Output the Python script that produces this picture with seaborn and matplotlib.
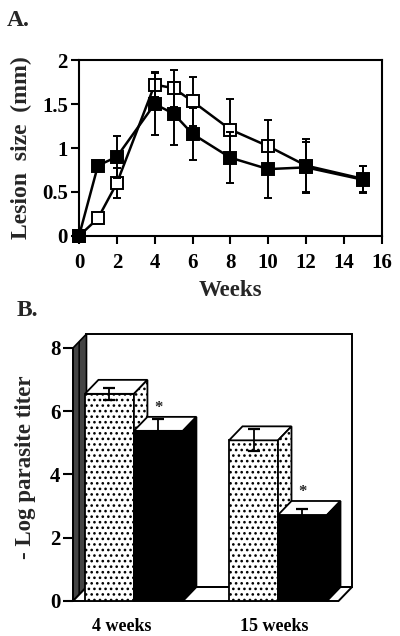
import numpy as np
import pandas as pd
import matplotlib
matplotlib.use("Agg")
import matplotlib.pyplot as plt
import matplotlib.transforms as mtransforms
from matplotlib.patches import Polygon
import seaborn as sns

# ---------------- data ----------------
weeks = [0, 1, 2, 4, 5, 6, 8, 10, 12, 15]
open_mean = [0.0, 0.2, 0.6, 1.72, 1.68, 1.53, 1.21, 1.02, 0.80, 0.65]
open_err = [0.0, 0.0, 0.17, 0.14, 0.21, 0.28, 0.35, 0.30, 0.30, 0.15]
filled_mean = [0.0, 0.8, 0.9, 1.50, 1.39, 1.16, 0.89, 0.76, 0.78, 0.64]
filled_err = [0.0, 0.0, 0.24, 0.35, 0.36, 0.30, 0.29, 0.33, 0.29, 0.15]

times = ["4 weeks", "15 weeks"]
groups = ["dotted", "black"]
titer_dotted = [6.55, 5.08]
titer_black = [5.38, 2.72]
titer_err_dotted = [0.18, 0.35]
titer_err_black = [0.37, 0.18]

# ---------------- style ----------------
sns.set_theme(style="ticks")
plt.rcParams["font.family"] = ["Liberation Serif", "DejaVu Serif"]
plt.rcParams["font.weight"] = "bold"
plt.rcParams["axes.labelweight"] = "bold"
plt.rcParams["hatch.linewidth"] = 1.1
plt.rcParams["hatch.color"] = "black"

W, H = 400, 636
fig = plt.figure(figsize=(W / 100, H / 100), dpi=100)
fig.patch.set_facecolor("white")


def px_axes(left, top, right, bottom):
    return fig.add_axes([left / W, 1 - bottom / H, (right - left) / W, (bottom - top) / H])


# ---------------- panel A ----------------
axA = px_axes(79, 60, 381.7, 236)
dfA = pd.DataFrame({
    "week": weeks * 2,
    "size": open_mean + filled_mean,
    "group": ["open"] * len(weeks) + ["filled"] * len(weeks),
})

axA.errorbar(weeks, open_mean, yerr=open_err, fmt="none", ecolor="black",
             elinewidth=1.4, capsize=3, capthick=1.4, zorder=2, clip_on=False)
sns.lineplot(data=dfA[dfA.group == "open"], x="week", y="size", ax=axA,
             color="black", lw=1.8, marker="s", markersize=8.5,
             markerfacecolor="white", markeredgecolor="black", markeredgewidth=1.4,
             zorder=3, clip_on=False, legend=False)
axA.errorbar(weeks, filled_mean, yerr=filled_err, fmt="none", ecolor="black",
             elinewidth=1.4, capsize=3, capthick=1.4, zorder=4, clip_on=False)
sns.lineplot(data=dfA[dfA.group == "filled"], x="week", y="size", ax=axA,
             color="black", lw=1.8, marker="s", markersize=8.5,
             markerfacecolor="black", markeredgecolor="black", markeredgewidth=1.4,
             zorder=5, clip_on=False, legend=False)

axA.set_xlim(0, 16)
axA.set_ylim(0, 2)
axA.set_xticks(range(0, 17, 2))
axA.set_yticks([0, 0.5, 1, 1.5, 2])
axA.set_yticklabels(["0", "0.5", "1", "1.5", "2"])
axA.set_xlabel("Weeks", fontsize=16.5, labelpad=5)
axA.set_ylabel("Lesion  size  (mm)", fontsize=17, labelpad=7)
for s in axA.spines.values():
    s.set_linewidth(1.5)
    s.set_color("black")
axA.tick_params(direction="out", length=6, width=1.5, labelsize=15, colors="black")
axA.tick_params(axis="x", pad=6)
axA.tick_params(axis="y", pad=2)
for lab in axA.get_xticklabels() + axA.get_yticklabels():
    lab.set_fontweight("bold")
fig.text(7 / W, 1 - 20 / H, "A.", fontsize=17, fontweight="bold", va="center", ha="left")

# ---------------- panel B ----------------
xl, xr = -0.423, 1.42
ddx, ddy = 0.0936, 0.442
axB = px_axes(73, 334, 352, 601)

dfB = pd.DataFrame({
    "time": times * 2,
    "titer": titer_dotted + titer_black,
    "group": ["dotted"] * 2 + ["black"] * 2,
})
sns.barplot(data=dfB, x="time", y="titer", hue="group", hue_order=groups,
            order=times, palette=["white", "black"], width=0.68, ax=axB,
            legend=False, errorbar=None, saturation=1)
axB.set_xlim(xl, xr + ddx)
axB.set_ylim(0, 8 + ddy)

# back wall, left wall, floor
axB.add_patch(Polygon([(xl + ddx, ddy), (xr + ddx, ddy), (xr + ddx, 8 + ddy), (xl + ddx, 8 + ddy)],
                      closed=True, facecolor="white", edgecolor="black", lw=1.4, zorder=0.5,
                      clip_on=False))
axB.add_patch(Polygon([(xl, 0), (xl + ddx, ddy), (xl + ddx, 8 + ddy), (xl, 8)],
                      closed=True, facecolor="#444444", edgecolor="black", hatch="||",
                      lw=1.2, zorder=0.6, clip_on=False))
axB.add_patch(Polygon([(xl, 0), (xr, 0), (xr + ddx, ddy), (xl + ddx, ddy)],
                      closed=True, facecolor="white", edgecolor="black", lw=1.4, zorder=0.7,
                      clip_on=False))

errs = {"dotted": titer_err_dotted, "black": titer_err_black}
for gi, (g, cont) in enumerate(zip(groups, axB.containers)):
    z = 3 + gi
    for bi, rect in enumerate(cont.patches):
        x0, w, h = rect.get_x(), rect.get_width(), rect.get_height()
        if g == "dotted":
            fc, hatch = "white", "..."
        else:
            fc, hatch = "black", None
        rect.set_facecolor(fc)
        rect.set_edgecolor("black")
        rect.set_linewidth(1.3)
        rect.set_hatch(hatch)
        rect.set_zorder(z)
        axB.add_patch(Polygon([(x0, h), (x0 + w, h), (x0 + w + ddx, h + ddy), (x0 + ddx, h + ddy)],
                              closed=True, facecolor="white", edgecolor="black", lw=1.3, zorder=z,
                              clip_on=False))
        axB.add_patch(Polygon([(x0 + w, 0), (x0 + w + ddx, ddy), (x0 + w + ddx, h + ddy), (x0 + w, h)],
                              closed=True, facecolor=fc, edgecolor="black", hatch=hatch,
                              lw=1.3, zorder=z, clip_on=False))
        xc = x0 + w / 2
        axB.errorbar([xc], [h], yerr=[errs[g][bi]], fmt="none", ecolor="black",
                     elinewidth=1.3, capsize=4, capthick=1.6, zorder=z + 0.5)
        if g == "black":
            axB.text(xc, h + 0.72, "*", ha="center", va="center", fontsize=12,
                     fontweight="bold", zorder=10)

for s in ["top", "right", "bottom"]:
    axB.spines[s].set_visible(False)
axB.spines["left"].set_bounds(0, 8)
axB.spines["left"].set_linewidth(1.4)
axB.spines["left"].set_color("black")
axB.set_yticks([0, 2, 4, 6, 8])
axB.tick_params(axis="y", direction="out", length=7, width=1.5, labelsize=15, pad=2, colors="black")
axB.tick_params(axis="x", length=0, labelsize=13, pad=12, colors="black")
for lab in axB.get_xticklabels() + axB.get_yticklabels():
    lab.set_fontweight("bold")
# nudge category labels slightly left as in the original figure
for lab, dx_px in zip(axB.get_xticklabels(), [-12, -4]):
    lab.set_transform(lab.get_transform() + mtransforms.ScaledTranslation(dx_px / 100, 0, fig.dpi_scale_trans))
axB.set_xlabel("")
axB.set_ylabel("- Log parasite titer", fontsize=16.5, labelpad=10)
fig.text(17 / W, 1 - 311 / H, "B.", fontsize=17, fontweight="bold", va="center", ha="left")

fig.savefig("out.png", dpi=100, facecolor="white")
